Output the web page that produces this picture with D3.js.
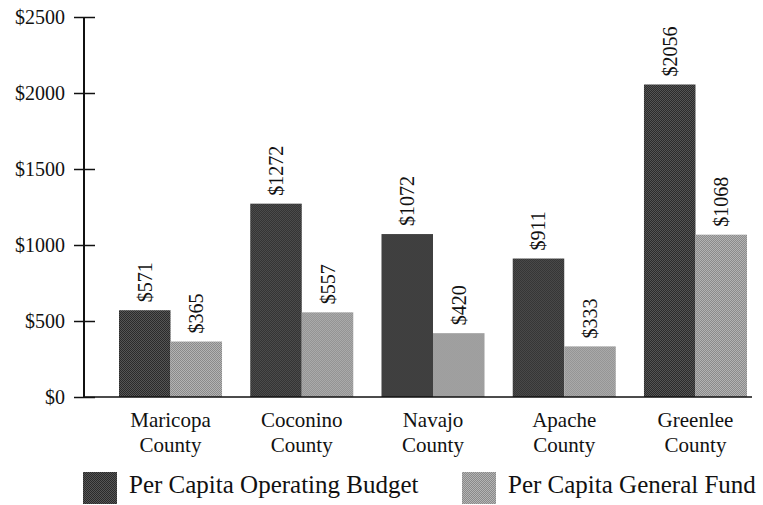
<!DOCTYPE html>
<html>
<head>
<meta charset="utf-8">
<script src="https://cdn.jsdelivr.net/npm/d3@7"></script>
<style>
  body { margin: 0; background: #fff; }
  text { font-family: "Liberation Serif", "DejaVu Serif", serif; fill: #111; }
</style>
</head>
<body>
<div id="chart"></div>
<script>
// data
const counties = ["Maricopa County", "Coconino County", "Navajo County", "Apache County", "Greenlee County"];
const seriesNames = ["Per Capita Operating Budget", "Per Capita General Fund"];
const operatingBudget = [571, 1272, 1072, 911, 2056];
const generalFund = [365, 557, 420, 333, 1068];
const yTicks = [0, 500, 1000, 1500, 2000, 2500];

const width = 763;
const height = 505;
const margin = { top: 17, right: 11, bottom: 108, left: 84 };

const svg = d3.select("#chart")
  .append("svg")
  .attr("width", width)
  .attr("height", height);

// halftone-ish fills
const defs = svg.append("defs");
function makePattern(id, a, b) {
  const p = defs.append("pattern")
    .attr("id", id)
    .attr("width", 2)
    .attr("height", 2)
    .attr("patternUnits", "userSpaceOnUse");
  p.append("rect").attr("width", 2).attr("height", 2).attr("fill", a);
  p.append("rect").attr("width", 1).attr("height", 1).attr("fill", b);
  p.append("rect").attr("x", 1).attr("y", 1).attr("width", 1).attr("height", 1).attr("fill", b);
}
makePattern("darkFill", "#2a2a2a", "#555");
makePattern("lightFill", "#8a8a8a", "#b4b4b4");
const fills = ["url(#darkFill)", "url(#lightFill)"];

const x0 = d3.scaleBand()
  .domain(counties)
  .range([119, 747])
  .paddingInner(0.215)
  .paddingOuter(0);

const x1 = d3.scaleBand()
  .domain([0, 1])
  .range([0, x0.bandwidth()]);

const y = d3.scaleLinear()
  .domain([0, 2500])
  .range([height - margin.bottom, margin.top]);

// y axis
const yAxis = svg.append("g")
  .attr("transform", `translate(${margin.left}, 0)`)
  .call(d3.axisLeft(y)
    .tickValues(yTicks)
    .tickFormat(d => "$" + d)
    .tickSize(10)
    .tickPadding(9));
yAxis.select(".domain").remove();
yAxis.selectAll(".tick line")
  .attr("x1", -10).attr("x2", 11)
  .attr("stroke", "#111").attr("stroke-width", 1.5);
yAxis.selectAll(".tick text")
  .style("font-size", "20px")
  .attr("dy", "0.32em");
yAxis.append("line")
  .attr("y1", y(2500)).attr("y2", y(0))
  .attr("stroke", "#111").attr("stroke-width", 2);

// bars
const groups = svg.selectAll(".group")
  .data(counties)
  .enter()
  .append("g")
  .attr("class", "group")
  .attr("transform", d => `translate(${x0(d)}, 0)`);

const barData = (d, i) => [operatingBudget[i], generalFund[i]].map((v, k) => ({ v, k }));

groups.selectAll("rect")
  .data(barData)
  .enter()
  .append("rect")
  .attr("x", d => x1(d.k))
  .attr("y", d => y(d.v))
  .attr("width", x1.bandwidth())
  .attr("height", d => y(0) - y(d.v))
  .attr("fill", d => fills[d.k]);

groups.selectAll(".val")
  .data(barData)
  .enter()
  .append("text")
  .attr("class", "val")
  .attr("transform", d => `translate(${x1(d.k) + x1.bandwidth() / 2}, ${y(d.v) - 8}) rotate(-90)`)
  .attr("dy", "0.35em")
  .style("font-size", "20px")
  .text(d => "$" + d.v);

// x axis line
svg.append("line")
  .attr("x1", margin.left).attr("x2", 752)
  .attr("y1", y(0)).attr("y2", y(0))
  .attr("stroke", "#111").attr("stroke-width", 1.5);

// category labels
const catLabels = svg.selectAll(".cat")
  .data(counties)
  .enter()
  .append("text")
  .attr("class", "cat")
  .attr("text-anchor", "middle")
  .attr("x", d => x0(d) + x0.bandwidth() / 2)
  .attr("y", 427)
  .style("font-size", "21px");
catLabels.append("tspan")
  .attr("x", d => x0(d) + x0.bandwidth() / 2)
  .text(d => d.split(" ")[0]);
catLabels.append("tspan")
  .attr("x", d => x0(d) + x0.bandwidth() / 2)
  .attr("dy", 25)
  .text(d => d.split(" ")[1]);

// legend
const legendX = [83, 462];
const legend = svg.selectAll(".legend")
  .data(seriesNames)
  .enter()
  .append("g")
  .attr("class", "legend")
  .attr("transform", (d, i) => `translate(${legendX[i]}, 472)`);
legend.append("rect")
  .attr("width", 34)
  .attr("height", 32)
  .attr("fill", (d, i) => fills[i]);
legend.append("text")
  .attr("x", 46)
  .attr("y", 21)
  .style("font-size", "25px")
  .text(d => d);
</script>
</body>
</html>
